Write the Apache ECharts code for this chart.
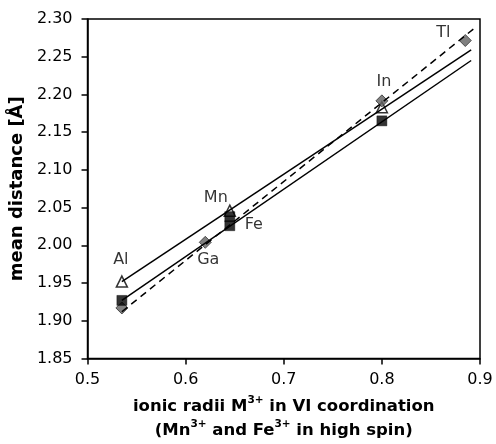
<!DOCTYPE html>
<html>
<head>
<meta charset="utf-8">
<script src="https://cdn.jsdelivr.net/npm/echarts@6/dist/echarts.min.js"></script>
<style>html,body{margin:0;padding:0;background:#fff}#c{width:496px;height:444px}</style>
</head>
<body>
<div id="c"></div>
<script>
// ---- data ----
const xTicks = [0.5, 0.6, 0.7, 0.8, 0.9];
const yTicks = [1.85, 1.90, 1.95, 2.00, 2.05, 2.10, 2.15, 2.20, 2.25, 2.30];

// open triangles
const triX = [0.535, 0.645, 0.80];
const triY = [1.952, 2.046, 2.183];
const triNames = ['Al', 'Mn', ''];

// filled squares
const sqX = [0.535, 0.645, 0.645, 0.80];
const sqY = [1.927, 2.038, 2.026, 2.165];
const sqNames = ['', '', 'Fe', ''];

// grey diamonds
const diaX = [0.535, 0.62, 0.80, 0.885];
const diaY = [1.917, 2.004, 2.1915, 2.2715];
const diaNames = ['', 'Ga', 'In', 'Tl'];

// linear trend lines (end points)
const trendTriX = [0.535, 0.891];
const trendTriY = [1.952, 2.259];
const trendSqX = [0.535, 0.891];
const trendSqY = [1.927, 2.245];
const trendDiaX = [0.535, 0.895];
const trendDiaY = [1.912, 2.2885];

// ---- styling / label placement ----
const FONT = "'DejaVu Sans', 'Liberation Sans', Arial, sans-serif";
const labelOffsets = {
  Al: [-1, -22], Mn: [-14, -13], Fe: [24, -1], Ga: [3, 18], In: [2, -19], Tl: [-22, -8]
};

function pts(xs, ys, names) {
  return xs.map((x, i) => {
    const item = { value: [x, ys[i]] };
    const n = names && names[i];
    if (n) {
      item.label = {
        show: true, formatter: n, position: 'inside', offset: labelOffsets[n],
        color: '#000', fontSize: 16, fontFamily: FONT,
        textBorderWidth: 0, textBorderColor: 'transparent'
      };
    }
    return item;
  });
}
function line(xs, ys) { return xs.map((x, i) => [x, ys[i]]); }

const chart = echarts.init(document.getElementById('c'), null, { renderer: 'canvas' });
chart.setOption({
  animation: false,
  backgroundColor: '#fff',
  grid: { left: 87, right: 16, top: 19, bottom: 82.5, show: true, borderColor: '#000', borderWidth: 1.5, backgroundColor: 'transparent' },
  xAxis: {
    type: 'value', min: xTicks[0], max: xTicks[xTicks.length - 1], interval: 0.1,
    axisLine: { show: true, lineStyle: { color: '#000', width: 1.5 } },
    axisTick: { show: true, inside: false, length: 6, lineStyle: { color: '#000', width: 1.5 } },
    splitLine: { show: false },
    axisLabel: { color: '#000', fontSize: 16, fontFamily: FONT, margin: 13, formatter: v => v.toFixed(1) },
    name: '{b|ionic radii M}{s|3+}{b| in VI coordination}\n{b|(Mn}{s|3+}{b| and Fe}{s|3+}{b| in high spin)}',
    nameLocation: 'middle', nameGap: 36,
    nameTextStyle: {
      color: '#000', fontFamily: FONT,
      rich: {
        b: { fontSize: 16.5, fontWeight: 'bold', fontFamily: FONT, color: '#000', lineHeight: 24 },
        s: { fontSize: 10.5, fontWeight: 'bold', fontFamily: FONT, color: '#000', lineHeight: 18, verticalAlign: 'top' }
      }
    }
  },
  yAxis: {
    type: 'value', min: yTicks[0], max: yTicks[yTicks.length - 1], interval: 0.05,
    axisLine: { show: true, lineStyle: { color: '#000', width: 1.5 } },
    axisTick: { show: true, inside: false, length: 6, lineStyle: { color: '#000', width: 1.5 } },
    splitLine: { show: false },
    axisLabel: { color: '#000', fontSize: 16, fontFamily: FONT, margin: 15, formatter: v => v.toFixed(2) },
    name: 'mean distance [Å]', nameLocation: 'middle', nameGap: 55,
    nameTextStyle: { color: '#000', fontSize: 18, fontWeight: 'bold', fontFamily: FONT }
  },
  series: [
    { type: 'line', data: line(trendTriX, trendTriY), symbol: 'none', silent: true,
      lineStyle: { color: '#000', width: 1.5 } },
    { type: 'line', data: line(trendSqX, trendSqY), symbol: 'none', silent: true,
      lineStyle: { color: '#000', width: 1.5 } },
    { type: 'line', data: line(trendDiaX, trendDiaY), symbol: 'none', silent: true,
      lineStyle: { color: '#000', width: 1.5, type: [7, 5] } },
    { type: 'scatter', data: pts(triX, triY, triNames), symbol: 'triangle', symbolSize: [11, 11],
      itemStyle: { color: '#fff', borderColor: '#000', borderWidth: 1.5 } },
    { type: 'scatter', data: pts(diaX, diaY, diaNames), symbol: 'diamond', symbolSize: [12, 12],
      itemStyle: { color: '#606060', borderColor: '#333', borderWidth: 1 } },
    { type: 'scatter', data: pts(sqX, sqY, sqNames), symbol: 'rect', symbolSize: [10, 10],
      itemStyle: { color: '#000', borderColor: '#000', borderWidth: 0.5 } }
  ]
});
</script>
</body>
</html>
